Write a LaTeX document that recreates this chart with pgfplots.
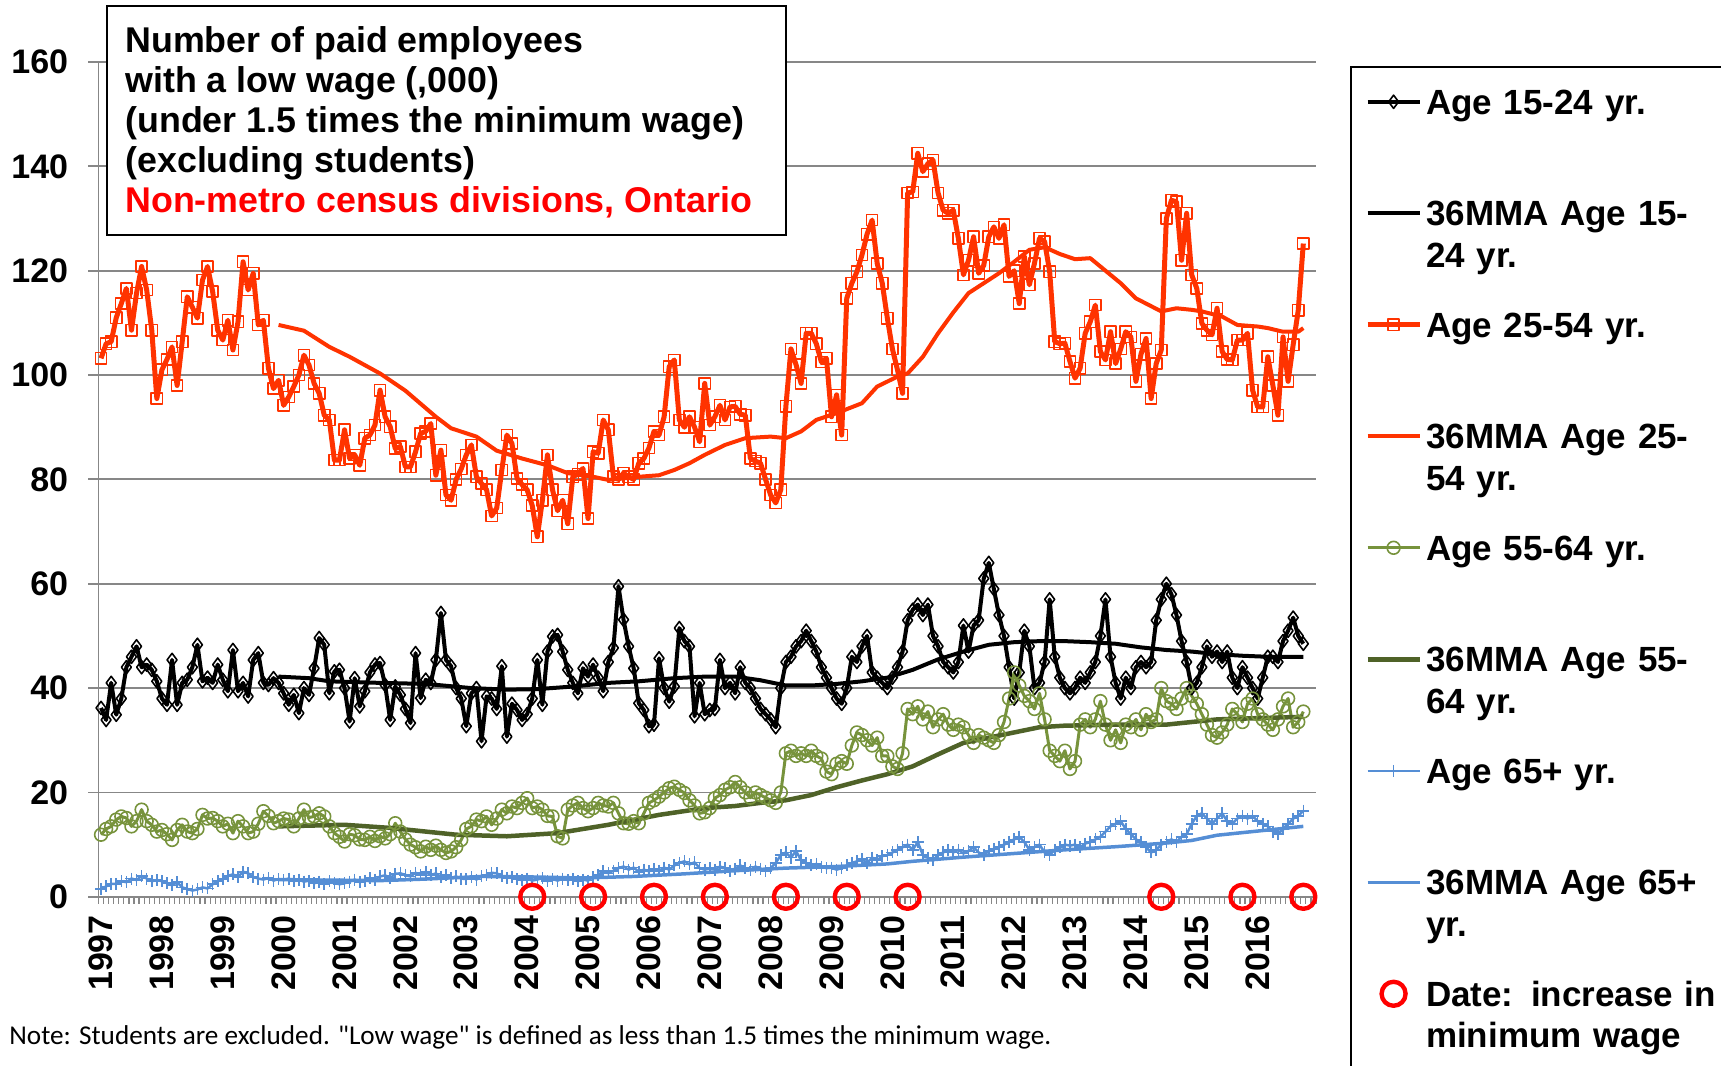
\documentclass[border=0pt]{standalone}
\usepackage{pgfplots}
\pgfplotsset{compat=1.18}
\usepackage{pgfplotstable}
\usepackage{fontspec}
\setmainfont{Liberation Sans}
\newfontfamily\notefont{Carlito}
\definecolor{cRed}{HTML}{FF3300}
\definecolor{cGreen}{HTML}{77933C}
\definecolor{cGreenMA}{HTML}{4F6228}
\definecolor{cBlue}{HTML}{558ED5}
\definecolor{cGrid}{HTML}{878787}
\definecolor{cCircle}{HTML}{FF0000}
\pgfplotsset{
  linelegend/.style={legend image code/.code={\draw[mark repeat=2,mark phase=2,##1] plot coordinates {(0pt,6.2pt) (13pt,6.2pt) (26pt,6.2pt)};}},
  dotlegend/.style={legend image code/.code={\draw[##1] plot coordinates {(13pt,6.2pt)};}},
}

% m = month index (0 = Jan 1997); a = 15-24, b = 25-54, c = 55-64, d = 65+
\pgfplotstableread{
m a b c d
0 36.2 103.2 11.9 1.5
1 33.9 106 13 2
2 41 106.4 13.5 2.5
3 34.9 111 14.8 2.5
4 38 113.7 15.4 3
5 44 116.6 15.1 2.8
6 46 108.6 13.5 3.5
7 48 115.7 14.5 3.2
8 44 120.8 16.7 4
9 44.5 116.3 14.5 3.5
10 43.5 108.6 13.8 3
11 41.3 95.5 12.5 3.2
12 38 101 12.8 3
13 36.8 103 12 2.6
14 45.4 105.4 10.9 2.2
15 36.8 98 12.8 2.8
16 41 106.4 13.8 1.8
17 41.6 115 12.5 1.5
18 44 113 12.2 1.2
19 48.3 110.9 13 1.4
20 41.3 118.2 15.7 1.8
21 42 120.8 15 1.6
22 41 116 15.1 2.4
23 44.5 108.6 14.5 3
24 41.6 106.7 13.5 3.4
25 39.4 110.5 14 4
26 47.3 104.8 12.2 4.3
27 39.4 110.2 14.5 3.8
28 41 121.7 13.5 4.8
29 38.4 116.3 12.2 4.5
30 45.4 119.5 12.5 3.8
31 46.7 109.6 14 3.5
32 41 110.5 16.4 3.3
33 40.6 101.3 15.5 3.6
34 41.9 97.4 14.1 3.1
35 41 99 14.5 3.4
36 39 94.2 15 3.2
37 36.8 95.8 14.8 3.5
38 38.7 97.8 13.5 3
39 35.2 100 15 3.3
40 40 103.8 16.7 2.9
41 38.7 101.9 15.2 3.1
42 43.8 98.4 15.4 2.6
43 49.6 96.5 16 2.9
44 48.3 92.3 15.4 2.5
45 39 91.4 13.5 3
46 43.2 83.7 12.2 2.7
47 43.5 83.7 11.5 2.4
48 40 89.5 10.6 2.6
49 33.6 84 12 2.9
50 41.9 84.7 11.8 3.3
51 36.5 82.7 11 2.8
52 39.4 87.9 10.9 3.1
53 43 88.5 11.5 3.6
54 44.5 90.4 10.7 3.3
55 44.8 97.1 11.6 3.9
56 40.6 92 11.2 4.1
57 33.9 90.1 12 3.6
58 40.3 85.9 14.1 4.4
59 38.7 86.3 12.5 4.5
60 36 82.4 11 4.2
61 33.3 82.4 10 3.9
62 46.7 85.3 9.5 4.6
63 38.1 88.8 8.7 4.2
64 41.6 89.2 9.6 4.8
65 41 90.7 9 4.1
66 45.4 80.8 9.8 4.5
67 54.4 85.6 9 3.8
68 45.4 77 8.4 4.2
69 44.2 76 8.7 3.6
70 40 80 9.5 3.9
71 38 82 10.9 3.5
72 32.7 84.7 13 3.4
73 39 86.6 13.5 3.8
74 40 80.5 14.8 3.3
75 29.8 79.2 14.5 3.9
76 38.4 78 15.4 4.2
77 38 73 13.8 4.6
78 36 74.5 15 4.5
79 44.2 81.8 16.7 4
80 30.7 88.5 16 3.6
81 37 86.9 17.3 3.8
82 35.8 80.2 17 3.4
83 33.9 79 18 3.2
84 35 78 18.9 3.5
85 38 75 17 3.1
86 45.4 69 17.3 3.3
87 36.8 76 16.7 3.6
88 47 84.7 15.5 3
89 49.9 78 15.4 3.4
90 50.2 74 11.6 3.1
91 47 76 11.2 3.5
92 43.5 71.5 16.7 3.2
93 41 80.5 17.5 3.4
94 39 81 18 3
95 43.8 82.1 17 3.3
96 42.2 72.5 16.4 3.1
97 44.5 85.3 17 3.8
98 42 85 18 4.2
99 39.4 91.4 17.5 4.9
100 45 89.5 17.3 4.5
101 47.7 80.5 18 5
102 59.5 80 16 5.5
103 53.1 81.2 14.1 5.8
104 48 80.5 14 5.2
105 43.8 80 14.5 5.6
106 37.1 83.1 14.1 4.8
107 35.8 84 16 5.2
108 32.7 86 18 4.9
109 33 89.2 18.5 5.3
110 45.7 88.5 19.2 5
111 40 92 20 5.6
112 37.4 101.6 20.8 5.2
113 40.3 102.9 21.1 6
114 51.5 91.4 20.5 6.5
115 49 90 19.9 6.8
116 48 92 18.5 6.2
117 34.6 90 17.5 6.6
118 41 87.2 16 5.5
119 35 98.4 16.2 5.2
120 35.8 90.4 17 5.5
121 36 92 18.9 5.2
122 45.4 94.2 19.5 5.8
123 40 91.4 20.5 5.5
124 41 93.9 21 5
125 39 94 22 5.4
126 44 92.5 21 6
127 41 92.3 20 5.5
128 40 84 19 5.2
129 38 83.5 20 5.8
130 36 83.1 19.5 5.4
131 35 80 19 5
132 34 77 18.5 5.5
133 32.5 75.5 18 6.5
134 40 78 20 8
135 45 94 27.5 8.5
136 46 105 28 7.5
137 48 102 27 8.8
138 49 98.4 27.5 7
139 51 108 27 6.5
140 49 108 28 6
141 47 106 27 6.3
142 44 102.5 26.5 5.8
143 42 103.2 24 5.5
144 40 92 23.5 5.6
145 38 96.2 25.5 5.2
146 37 88.5 26 5.5
147 40 114.7 25.5 6
148 46 117.6 29 6.5
149 45 119.8 31.5 6.8
150 48 123 31 7.2
151 50 127 30 6.5
152 43 129.7 29 7.5
153 42 121.4 30.5 7
154 41 117.6 27 7.8
155 40 110.9 27 8
156 42 105 25 8.5
157 44 101 24.5 9
158 47 96.5 27.5 9.5
159 53 134.9 36 10
160 55 135.1 35 9
161 56 142.5 36.5 10.5
162 54 139 34 8
163 56 140.5 35.5 7.5
164 50 141.2 32.5 7
165 48 134.9 34 8
166 45 131.6 35 8.5
167 44 131 33 9
168 43 131.6 32 8.5
169 45 126.2 33 9
170 52 119.2 32.5 8.3
171 47 122 31 8.8
172 52 126.5 29.5 9.5
173 53 119.5 31 8.5
174 61 121 30.5 8
175 64 126.5 30 8.8
176 59 128.4 29.5 9.2
177 54 126.2 31 9.5
178 50 128.8 33.5 10
179 44 118.9 38 10.5
180 38 120 43 11
181 43 113.7 40.5 11.5
182 51 122.7 38.5 10.5
183 48 117.3 37.5 9
184 40 121.4 36 9.5
185 41 126.2 39 10
186 45 125.6 34 8.5
187 57 119.8 28 8
188 46 106.4 27 9
189 42 106 26 9.5
190 40 106.1 28 10
191 39 102.6 24.5 9.8
192 40 99.4 26 10
193 42 101.3 33 9.5
194 41 108 34 10.2
195 43 110.2 32.5 10.5
196 45 113.4 34 11
197 50 104.5 37.5 11.5
198 57 102.9 33 12.5
199 46 108.3 30 13.5
200 41 102.2 32 14
201 38 105 29.5 14.5
202 42 108.3 33 13
203 40 107.3 32.5 12
204 44 98.8 34 11
205 45 104 32 10.5
206 44 107 35 9.5
207 45 95.5 33.5 8.5
208 53 102.2 34 9
209 57 104.8 40 10
210 60 130 37.5 10.5
211 58 133.5 37 11
212 54 133.2 36 10.5
213 49 122 38 11.5
214 45 131 40 12
215 40 119.2 38.5 14
216 41 116.6 37 15.5
217 44 109.9 35 16
218 48 108.6 33 15
219 46 107.7 31 14
220 47 112.8 30.5 15
221 45 104.5 31.5 16
222 47 103 33 14.5
223 42 102.9 36 14
224 40 106.7 35 15
225 44 106.7 33.5 15.5
226 42 108 37 15
227 40 97.1 38 15.5
228 38 93.9 35 14.5
229 42 93.9 34 14
230 46 103.5 33 13.5
231 46 98 32 12.5
232 45 92.3 34 12
233 49 107.3 36.5 13
234 51 98.8 38 14
235 53.5 105.8 32.5 15
236 50 112.4 33.5 15.5
237 48.5 125.2 35.5 16.5
}\rawdata

\pgfplotstableread{
m v
35 42.2
41 41.9
45 41.3
55 41
64 40.8
73 40
80 39.7
86 39.8
93 40.3
100 41
106 41.3
113 41.9
119 42.2
125 42.2
130 41.5
135 40.5
140 40.5
145 40.8
150 41.3
155 42
160 43.5
165 45.5
170 47
175 48.3
180 48.8
185 49
190 49
195 48.8
200 48.5
205 47.8
210 47.3
215 47
220 46.5
225 46.2
230 46
237 46
}\maA

\pgfplotstableread{
m v
35 109.6
40 108.5
45 105.4
49 103.5
55 100.3
60 97
66 92
69 89.8
74 88.2
78 85.5
83 84
88 82.7
92 81.2
97 80.5
100 79.9
106 80.5
110 80.8
113 81.8
116 83.1
119 84.7
123 86.6
127 87.9
132 88.2
135 87.9
138 89.2
141 91.4
145 92.7
150 94.6
153 97.8
157 99.7
159 100.3
162 103.5
165 108
168 112
171 115.7
174 117.6
177 119.5
180 121.7
183 124
186 124.5
189 123.2
192 122.2
195 122.4
197 120.8
201 117.6
204 114.7
209 112.2
212 112.8
215 112.5
217 112.2
221 111.2
224 109.6
228 109.3
230 109
233 108.3
236 108.3
237 109
}\maB

\pgfplotstableread{
m v
35 13.5
48 13.8
57 13.2
64 12.5
70 11.9
80 11.6
90 12.2
100 13.8
110 15.7
119 17
125 17.4
130 18
135 18.5
140 19.5
145 21
150 22.3
155 23.5
160 25
165 27.3
170 29.5
175 30.5
180 31.5
185 32.5
190 32.8
200 33
210 33
215 33.5
220 34
230 34.3
237 34.5
}\maC

\pgfplotstableread{
m v
35 3.3
45 3.2
55 3.1
64 3.4
75 3.9
85 3.8
95 3.6
105 3.9
115 4.4
125 5
135 5.5
145 5.8
155 6.3
160 6.8
170 7.6
180 8.3
190 9
200 9.6
210 10.3
215 10.8
220 11.8
225 12.3
230 12.8
237 13.5
}\maD

\pgfplotstableread{
m v
85 0
97 0
109 0
121 0
135 0
147 0
159 0
209 0
225 0
237 0
}\mwdates

\begin{document}
\begin{tikzpicture}
\useasboundingbox (0,0) rectangle (860.5pt,533pt);
\begin{axis}[
  at={(49.25pt,84.6pt)}, anchor=south west,
  scale only axis, width=608.75pt, height=417.4pt,
  xmin=-0.5, xmax=239.5, ymin=0, ymax=160,
  clip=false,
  axis x line*=bottom, axis y line*=left,
  axis line style={draw=cGrid, line width=0.9pt, -},
  ytick={0,20,...,160},
  ymajorgrids,
  major grid style={draw=cGrid, line width=0.9pt},
  xtick={0,12,...,228},
  xticklabels={1997,1998,1999,2000,2001,2002,2003,2004,2005,2006,2007,2008,2009,2010,2011,2012,2013,2014,2015,2016},
  minor xtick={-0.5,0.5,...,239.5},
  tick align=outside,
  major tick length=5pt, minor tick length=3.5pt,
  major x tick style={draw=none},
  minor x tick style={draw=cGrid, line width=0.6pt},
  major y tick style={draw=cGrid, line width=0.9pt},
  /pgf/number format/assume math mode=true,
  ticklabel style={font=\fontsize{17}{17}\selectfont\bfseries},
  yticklabel style={inner sep=0pt},
  yticklabel shift=10pt,
  xticklabel style={rotate=90, anchor=east, inner sep=0pt},
  xticklabel shift=4pt,
  every axis plot/.append style={line join=round},
  legend style={
    at={(1.028,0.995)}, anchor=north west,
    draw=black, line width=1pt, fill=white,
    inner xsep=7pt, inner ysep=9.5pt,
    row sep=0pt, column sep=2pt,
    font=\fontsize{17.5}{20.85}\selectfont\bfseries,
    cells={anchor=base west},
    nodes={inner sep=0pt, text width=175pt, align=left, text height=14pt, text depth=41.75pt},
  },
  linelegend,
]
\addplot[black, line width=2pt, mark=diamond, mark size=3.3pt,
  mark options={solid, draw=black, line width=0.8pt}] table[x=m,y=a] {\rawdata};
\addlegendentry{Age 15-24 yr.}
\addplot[black, line width=2pt] table[x=m,y=v] {\maA};
\addlegendentry{36MMA Age 15-\\24 yr.}
\addplot[cRed, line width=2.5pt, mark=square, mark size=2.8pt,
  mark options={solid, draw=cRed, line width=0.75pt}] table[x=m,y=b] {\rawdata};
\addlegendentry{Age 25-54 yr.}
\addplot[cRed, line width=2pt] table[x=m,y=v] {\maB};
\addlegendentry{36MMA Age 25-\\54 yr.}
\addplot[cGreen, line width=1.5pt, mark=o, mark size=3.2pt,
  mark options={solid, draw=cGreen, line width=0.8pt}] table[x=m,y=c] {\rawdata};
\addlegendentry{Age 55-64 yr.}
\addplot[cGreenMA, line width=2.25pt] table[x=m,y=v] {\maC};
\addlegendentry{36MMA Age 55-\\64 yr.}
\addplot[cBlue, line width=1.25pt, mark=+, mark size=3pt,
  mark options={solid, draw=cBlue, line width=0.8pt}] table[x=m,y=d] {\rawdata};
\addlegendentry{Age 65+ yr.}
\addplot[cBlue, line width=1.75pt] table[x=m,y=v] {\maD};
\addlegendentry{36MMA Age 65+\\yr.}
\addplot[only marks, mark=o, mark size=6pt, draw=cCircle, line width=2.2pt,
  mark options={solid, draw=cCircle, line width=2.2pt}, dotlegend] table[x=m,y=v] {\mwdates};
\addlegendentry{Date: increase in\\minimum wage}
\end{axis}
\node[draw=black, line width=1pt, fill=white, anchor=north west,
  minimum width=339.4pt, minimum height=114.2pt, inner sep=0pt] at (53pt,530.3pt) {};
\node[anchor=base west, inner sep=0pt, font=\fontsize{17.9}{20}\selectfont\bfseries]
  at (62.5pt,506.8pt) {\parbox[t]{330pt}{Number of paid employees\\
  with a low wage (,000)\\
  (under 1.5 times the minimum wage)\\
  (excluding students)\\
  \textcolor{cCircle}{Non-metro census divisions, Ontario}}};
\node[anchor=base west, inner sep=0pt, font=\notefont\fontsize{13.6}{15}\selectfont]
  at (4.5pt,10.5pt) {Note: Students are excluded. "Low wage" is defined as less than 1.5 times the minimum wage.};
\end{tikzpicture}
\end{document}
